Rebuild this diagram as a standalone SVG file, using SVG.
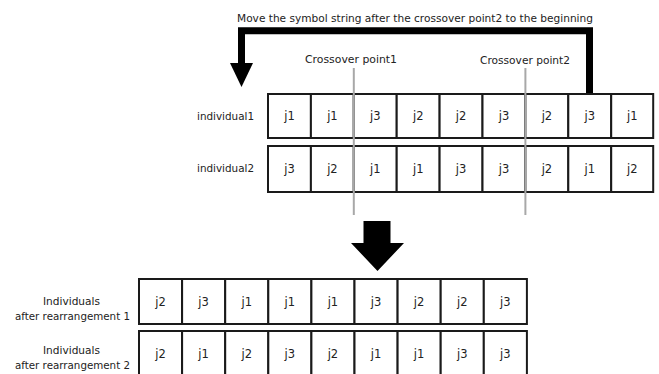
<svg xmlns="http://www.w3.org/2000/svg" width="659" height="374" viewBox="0 0 659 374">
  <style>
    .cell { fill: #ffffff; stroke: #1a1a1a; stroke-width: 2; }
    .sym { font-family: "DejaVu Sans", Verdana, sans-serif; font-size: 11.5px; fill: #222; text-anchor: middle; }
    .lbl { font-family: "DejaVu Sans", Verdana, sans-serif; font-size: 10.2px; fill: #222; }
    .cut { stroke: #a8a8a8; stroke-width: 2; fill: none; }
  </style>
  <rect width="659" height="374" fill="#ffffff"/>

  <!-- caption of the rotation step -->
  <text class="lbl" x="415" y="22" text-anchor="middle" textLength="356" lengthAdjust="spacingAndGlyphs">Move the symbol string after the crossover point2 to the beginning</text>

  <!-- crossover labels -->
  <text class="lbl" x="351" y="63" text-anchor="middle" textLength="92" lengthAdjust="spacingAndGlyphs">Crossover point1</text>
  <text class="lbl" x="525" y="64" text-anchor="middle" textLength="90" lengthAdjust="spacingAndGlyphs">Crossover point2</text>

  <g id="connectors">
    <!-- bent arrow carrying the tail to the front -->
    <polyline points="589.5,93 589.5,30.7 241.5,30.7 241.5,64" fill="none" stroke="#000" stroke-width="7" stroke-linejoin="miter"/>
    <polygon points="230,63 253,63 241.5,87" fill="#000"/>
    <!-- downward block arrow -->
    <polygon points="363.5,221 390.5,221 390.5,243 404,243 377.5,271 351,243 363.5,243" fill="#000"/>
  </g>

  <!-- individual 1 -->
  <g id="individual1">
    <text class="lbl" x="254" y="120" text-anchor="end" textLength="57" lengthAdjust="spacingAndGlyphs">individual1</text>
    <rect class="cell" x="268" y="94" width="42.9" height="44"/>
    <rect class="cell" x="310.9" y="94" width="42.9" height="44"/>
    <rect class="cell" x="353.8" y="94" width="42.9" height="44"/>
    <rect class="cell" x="396.7" y="94" width="42.9" height="44"/>
    <rect class="cell" x="439.6" y="94" width="42.9" height="44"/>
    <rect class="cell" x="482.5" y="94" width="42.9" height="44"/>
    <rect class="cell" x="525.4" y="94" width="42.9" height="44"/>
    <rect class="cell" x="568.3" y="94" width="42.9" height="44"/>
    <rect class="cell" x="611.2" y="94" width="42" height="44"/>
    <text class="sym" x="289.5" y="120">j1</text>
    <text class="sym" x="332.4" y="120">j1</text>
    <text class="sym" x="375.3" y="120">j3</text>
    <text class="sym" x="418.2" y="120">j2</text>
    <text class="sym" x="461.1" y="120">j2</text>
    <text class="sym" x="504" y="120">j3</text>
    <text class="sym" x="546.9" y="120">j2</text>
    <text class="sym" x="589.8" y="120">j3</text>
    <text class="sym" x="632.2" y="120">j1</text>
  </g>

  <!-- individual 2 -->
  <g id="individual2">
    <text class="lbl" x="254" y="172" text-anchor="end" textLength="57" lengthAdjust="spacingAndGlyphs">individual2</text>
    <rect class="cell" x="268" y="146" width="42.9" height="46"/>
    <rect class="cell" x="310.9" y="146" width="42.9" height="46"/>
    <rect class="cell" x="353.8" y="146" width="42.9" height="46"/>
    <rect class="cell" x="396.7" y="146" width="42.9" height="46"/>
    <rect class="cell" x="439.6" y="146" width="42.9" height="46"/>
    <rect class="cell" x="482.5" y="146" width="42.9" height="46"/>
    <rect class="cell" x="525.4" y="146" width="42.9" height="46"/>
    <rect class="cell" x="568.3" y="146" width="42.9" height="46"/>
    <rect class="cell" x="611.2" y="146" width="42" height="46"/>
    <text class="sym" x="289.5" y="173">j3</text>
    <text class="sym" x="332.4" y="173">j2</text>
    <text class="sym" x="375.3" y="173">j1</text>
    <text class="sym" x="418.2" y="173">j1</text>
    <text class="sym" x="461.1" y="173">j3</text>
    <text class="sym" x="504" y="173">j3</text>
    <text class="sym" x="546.9" y="173">j2</text>
    <text class="sym" x="589.8" y="173">j1</text>
    <text class="sym" x="632.2" y="173">j2</text>
  </g>

  <!-- crossover cut lines -->
  <line class="cut" x1="353.8" y1="68" x2="353.8" y2="215"/>
  <line class="cut" x1="525.4" y1="68" x2="525.4" y2="215"/>

  <!-- rearranged individual 1 -->
  <g id="rearranged1">
    <text class="lbl" x="71.5" y="305" text-anchor="middle" textLength="57" lengthAdjust="spacingAndGlyphs">Individuals</text>
    <text class="lbl" x="72.5" y="320" text-anchor="middle" textLength="115" lengthAdjust="spacingAndGlyphs">after rearrangement 1</text>
    <rect class="cell" x="139" y="279" width="43.1" height="45"/>
    <rect class="cell" x="182.1" y="279" width="43.1" height="45"/>
    <rect class="cell" x="225.2" y="279" width="43.1" height="45"/>
    <rect class="cell" x="268.3" y="279" width="43.1" height="45"/>
    <rect class="cell" x="311.4" y="279" width="43.1" height="45"/>
    <rect class="cell" x="354.5" y="279" width="43.1" height="45"/>
    <rect class="cell" x="397.6" y="279" width="43.1" height="45"/>
    <rect class="cell" x="440.7" y="279" width="43.1" height="45"/>
    <rect class="cell" x="483.8" y="279" width="43.1" height="45"/>
    <text class="sym" x="160.5" y="306">j2</text>
    <text class="sym" x="203.6" y="306">j3</text>
    <text class="sym" x="246.7" y="306">j1</text>
    <text class="sym" x="289.8" y="306">j1</text>
    <text class="sym" x="332.9" y="306">j1</text>
    <text class="sym" x="376" y="306">j3</text>
    <text class="sym" x="419.1" y="306">j2</text>
    <text class="sym" x="462.2" y="306">j2</text>
    <text class="sym" x="505.3" y="306">j3</text>
  </g>

  <!-- rearranged individual 2 -->
  <g id="rearranged2">
    <text class="lbl" x="71.5" y="354" text-anchor="middle" textLength="57" lengthAdjust="spacingAndGlyphs">Individuals</text>
    <text class="lbl" x="72.5" y="369" text-anchor="middle" textLength="115" lengthAdjust="spacingAndGlyphs">after rearrangement 2</text>
    <rect class="cell" x="139" y="331" width="43.1" height="46"/>
    <rect class="cell" x="182.1" y="331" width="43.1" height="46"/>
    <rect class="cell" x="225.2" y="331" width="43.1" height="46"/>
    <rect class="cell" x="268.3" y="331" width="43.1" height="46"/>
    <rect class="cell" x="311.4" y="331" width="43.1" height="46"/>
    <rect class="cell" x="354.5" y="331" width="43.1" height="46"/>
    <rect class="cell" x="397.6" y="331" width="43.1" height="46"/>
    <rect class="cell" x="440.7" y="331" width="43.1" height="46"/>
    <rect class="cell" x="483.8" y="331" width="43.1" height="46"/>
    <text class="sym" x="160.5" y="358">j2</text>
    <text class="sym" x="203.6" y="358">j1</text>
    <text class="sym" x="246.7" y="358">j2</text>
    <text class="sym" x="289.8" y="358">j3</text>
    <text class="sym" x="332.9" y="358">j2</text>
    <text class="sym" x="376" y="358">j1</text>
    <text class="sym" x="419.1" y="358">j1</text>
    <text class="sym" x="462.2" y="358">j3</text>
    <text class="sym" x="505.3" y="358">j3</text>
  </g>
</svg>
